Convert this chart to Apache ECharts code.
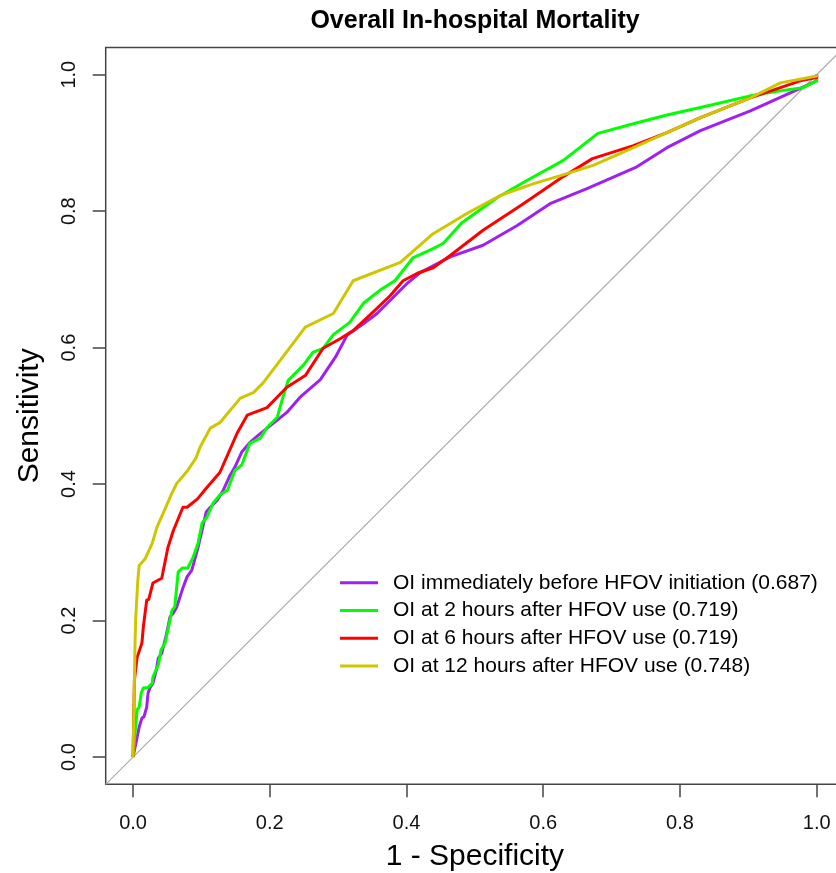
<!DOCTYPE html>
<html>
<head>
<meta charset="utf-8">
<script src="https://cdn.jsdelivr.net/npm/echarts@6/dist/echarts.min.js"></script>
<style>
html,body{margin:0;padding:0;background:#fff;}
#chart{width:836px;height:873px;}
</style>
</head>
<body>
<div id="chart"></div>
<script>
const title = "Overall In-hospital Mortality";
const xName = "1 - Specificity";
const yName = "Sensitivity";
const tickValues = [0, 0.2, 0.4, 0.6, 0.8, 1.0];
const seriesNames = [
  "OI immediately before HFOV initiation (0.687)",
  "OI at 2 hours after HFOV use (0.719)",
  "OI at 6 hours after HFOV use (0.719)",
  "OI at 12 hours after HFOV use (0.748)"
];
const seriesColors = ["#A020F0", "#00FF00", "#FF0000", "#CFC600"];

const diagonal = [[-0.04, -0.04], [1.04, 1.04]];

// OI immediately before HFOV initiation
const fprPre = [0,0.006,0.009,0.013,0.016,0.020,0.022,0.025,0.029,0.034,0.037,0.042,0.048,0.051,0.054,0.059,0.064,0.072,0.079,0.086,0.095,0.102,0.107,0.113,0.123,0.132,0.142,0.149,0.159,0.171,0.186,0.205,0.225,0.244,0.274,0.296,0.313,0.337,0.357,0.380,0.402,0.420,0.439,0.464,0.512,0.562,0.610,0.664,0.737,0.781,0.830,0.903,0.976,1.0,1.0];
const tprPre = [0,0.029,0.044,0.057,0.059,0.073,0.094,0.102,0.108,0.127,0.145,0.152,0.176,0.190,0.205,0.211,0.220,0.245,0.264,0.274,0.307,0.337,0.359,0.366,0.376,0.391,0.413,0.425,0.447,0.461,0.474,0.489,0.505,0.527,0.553,0.586,0.618,0.635,0.650,0.673,0.695,0.710,0.720,0.733,0.750,0.779,0.811,0.833,0.865,0.893,0.918,0.947,0.980,0.991,1.0];

// OI at 2 hours
const fpr2h = [0,0.003,0.006,0.009,0.012,0.015,0.022,0.028,0.029,0.037,0.041,0.047,0.053,0.057,0.061,0.066,0.072,0.080,0.088,0.095,0.101,0.108,0.117,0.127,0.138,0.149,0.159,0.171,0.186,0.196,0.211,0.218,0.227,0.249,0.263,0.278,0.293,0.317,0.337,0.361,0.383,0.410,0.439,0.454,0.481,0.533,0.576,0.629,0.680,0.732,0.781,0.830,0.903,0.951,0.980,1.0,1.0];
const tpr2h = [0,0.035,0.069,0.073,0.094,0.101,0.102,0.108,0.117,0.135,0.157,0.167,0.196,0.215,0.220,0.271,0.277,0.277,0.293,0.313,0.343,0.351,0.372,0.384,0.391,0.420,0.428,0.460,0.467,0.483,0.498,0.523,0.552,0.574,0.593,0.599,0.619,0.637,0.665,0.684,0.698,0.732,0.745,0.753,0.783,0.820,0.845,0.874,0.914,0.928,0.941,0.952,0.969,0.977,0.981,0.991,1.0];

// OI at 6 hours
const fpr6h = [0,0.002,0.004,0.006,0.013,0.015,0.020,0.023,0.029,0.042,0.051,0.059,0.073,0.079,0.094,0.108,0.127,0.152,0.167,0.196,0.225,0.252,0.278,0.303,0.322,0.351,0.376,0.395,0.416,0.439,0.464,0.512,0.571,0.625,0.672,0.732,0.781,0.830,0.903,0.976,1.0,1.0];
const tpr6h = [0,0.113,0.113,0.146,0.167,0.190,0.230,0.231,0.255,0.262,0.307,0.332,0.366,0.366,0.378,0.395,0.417,0.474,0.501,0.512,0.542,0.559,0.599,0.613,0.625,0.652,0.676,0.698,0.709,0.717,0.735,0.772,0.811,0.848,0.877,0.896,0.915,0.937,0.966,0.991,0.996,1.0];

// OI at 12 hours
const fpr12h = [0,0.0015,0.003,0.004,0.007,0.009,0.012,0.018,0.028,0.035,0.044,0.057,0.064,0.080,0.092,0.098,0.113,0.127,0.157,0.176,0.190,0.215,0.252,0.293,0.322,0.391,0.439,0.489,0.537,0.585,0.635,0.673,0.732,0.781,0.830,0.903,0.947,1.0,1.0];
const tpr12h = [0,0.083,0.171,0.205,0.259,0.281,0.284,0.291,0.313,0.337,0.357,0.387,0.401,0.420,0.438,0.454,0.482,0.490,0.526,0.534,0.548,0.581,0.630,0.650,0.698,0.725,0.767,0.797,0.823,0.840,0.855,0.867,0.893,0.915,0.937,0.966,0.988,0.998,1.0];

const FONT = "'Liberation Sans', Arial, Helvetica, sans-serif";
const zip = (xs, ys) => xs.map((x, i) => [x, ys[i]]);
const curves = [zip(fprPre, tprPre), zip(fpr2h, tpr2h), zip(fpr6h, tpr6h), zip(fpr12h, tpr12h)];

const chart = echarts.init(document.getElementById('chart'), null, {renderer: 'canvas'});

const axisCommon = {
  type: 'value',
  min: -0.04,
  max: 1.04,
  splitLine: {show: false},
  axisLine: {show: false, onZero: false},
  axisTick: {show: true, inside: false, length: 13, customValues: tickValues,
             lineStyle: {color: '#444', width: 1.5}},
  axisLabel: {customValues: tickValues, formatter: v => v.toFixed(1),
              color: '#111', fontSize: 20, fontFamily: FONT},
  nameLocation: 'middle',
  nameTextStyle: {color: '#000', fontSize: 30, fontFamily: FONT}
};

const option = {
  animation: false,
  backgroundColor: '#fff',
  title: {
    text: title,
    left: 470,
    top: 4,
    textAlign: 'center',
    textStyle: {fontSize: 25, fontWeight: 'bold', color: '#000', fontFamily: FONT}
  },
  grid: {
    left: 105.7, top: 47.4, width: 738.3, height: 736.9,
    containLabel: false, outerBoundsMode: 'none',
    show: true, borderColor: '#444', borderWidth: 1.5, backgroundColor: 'transparent'
  },
  legend: {
    orient: 'vertical',
    left: 335,
    top: 564,
    itemWidth: 38,
    itemHeight: 3,
    itemGap: 0,
    icon: 'rect',
    data: seriesNames,
    textStyle: {fontSize: 21, color: '#000', fontFamily: FONT, lineHeight: 27.7, padding: [0, 0, 0, 10]}
  },
  xAxis: Object.assign({}, axisCommon, {
    name: xName, nameGap: 57,
    axisLabel: Object.assign({}, axisCommon.axisLabel, {margin: 29})
  }),
  yAxis: Object.assign({}, axisCommon, {
    name: yName, nameGap: 61,
    axisLabel: Object.assign({}, axisCommon.axisLabel, {margin: 26, rotate: 90})
  }),
  series: [
    {
      name: 'diagonal', type: 'line', data: diagonal, symbol: 'none', silent: true,
      lineStyle: {color: '#aaaaaa', width: 1.2}, z: 1
    }
  ].concat(seriesNames.map((n, i) => ({
    name: n,
    type: 'line',
    data: curves[i],
    symbol: 'none',
    showSymbol: false,
    color: seriesColors[i],
    lineStyle: {color: seriesColors[i], width: 3, join: 'round'},
    z: 2 + i
  })))
};

chart.setOption(option);
</script>
</body>
</html>
